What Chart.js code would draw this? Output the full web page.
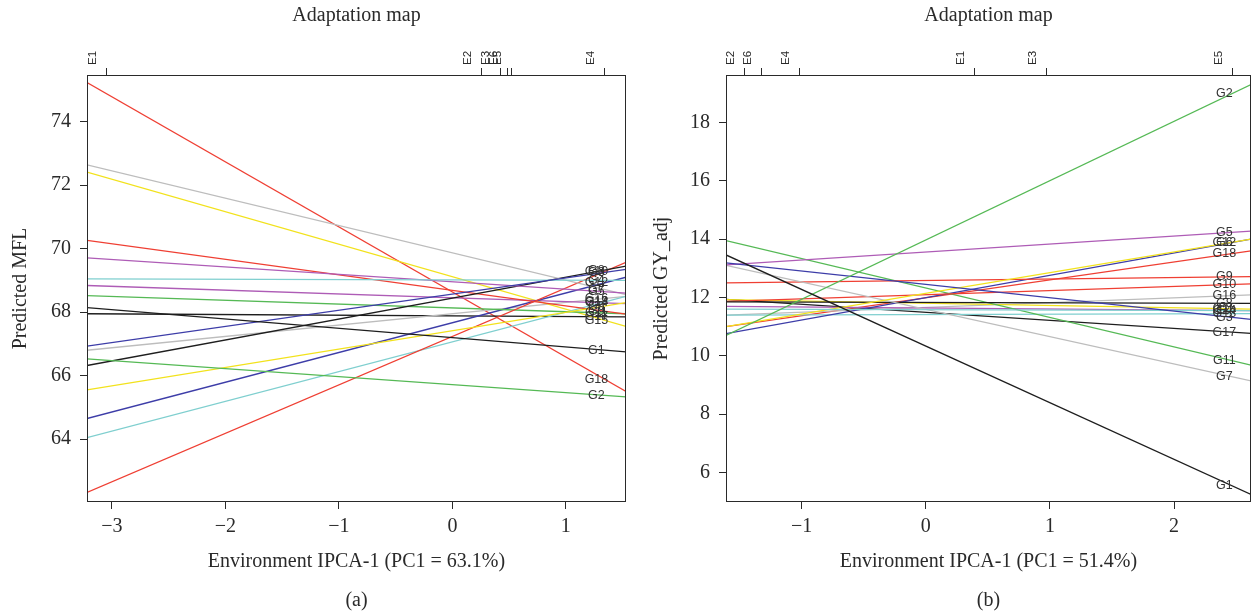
<!DOCTYPE html>
<html>
<head>
<meta charset="utf-8">
<script src="https://cdn.jsdelivr.net/npm/chart.js@4.4.1/dist/chart.umd.min.js"></script>
<style>
  body { margin: 0; background: #fff; }
  #wrap { position: relative; width: 1252px; height: 616px; }
  #boxA { position: absolute; left: 0; top: 0; }
  #boxB { position: absolute; left: 640px; top: 0; }
</style>
</head>
<body>
<div id="wrap">
  <div id="boxA"><canvas id="chartA" width="640" height="616"></canvas></div>
  <div id="boxB"><canvas id="chartB" width="612" height="616"></canvas></div>
</div>
<script>
// genotypes and their line colours
const genotypes = ['G1','G2','G3','G4','G5','G6','G7','G8','G9','G10','G11','G12','G13','G14','G15','G16','G17','G18'];
const genoColors = ['#1e1e1e','#55b955','#3d3da8','#7fcfcf','#ae5cb6','#f2e21c','#bdbdbd','#1e1e1e','#ef3f33',
                    '#ef3f33','#55b955','#3d3da8','#7fcfcf','#ae5cb6','#f2e21c','#bdbdbd','#1e1e1e','#ef3f33'];

// (a) MFL
const envNamesA = ['E1','E2','E3','E6','E5','E4'];
const envScoresA = [-3.05, 0.26, 0.42, 0.49, 0.52, 1.34];
const xRangeA = [-3.22, 1.53];
const yRangeA = [62.02, 75.47];
const xTicksA = [-3, -2, -1, 0, 1];
const yTicksA = [64, 66, 68, 70, 72, 74];
// predicted value at left and right end of the axis
const leftA  = [68.14, 66.53, 66.93, 69.05, 69.71, 65.55, 72.64, 66.32, 70.26, 62.32, 68.52, 64.65, 64.05, 68.84, 72.41, 66.80, 67.95, 75.23];
const rightA = [66.75, 65.33, 69.35, 69.00, 68.60, 68.30, 68.55, 69.45, 67.94, 69.57, 67.95, 69.10, 68.50, 68.27, 67.55, 68.50, 67.85, 65.50];

// (b) GY_adj
const envNamesB = ['E2','E6','E4','E1','E3','E5'];
const envScoresB = [-1.46, -1.32, -1.02, 0.39, 0.97, 2.47];
const xRangeB = [-1.61, 2.62];
const yRangeB = [4.99, 19.63];
const xTicksB = [-1, 0, 1, 2];
const yTicksB = [6, 8, 10, 12, 14, 16, 18];
const leftB  = [13.46, 10.70, 13.19, 11.60, 13.12, 11.00, 13.10, 11.85, 12.50, 11.87, 13.95, 10.76, 11.40, 11.70, 11.93, 11.40, 11.94, 11.00];
const rightB = [ 5.25, 19.30, 11.25, 11.55, 14.28, 14.00,  9.14, 11.80, 12.72, 12.47,  9.68, 14.00, 11.45, 11.55, 11.60, 12.09, 10.77, 13.60];

const SERIF = '"Liberation Serif", "Times New Roman", serif';
const SANS = '"Liberation Sans", Arial, sans-serif';
const INK = '#2a2a2a';

function minusFmt(v) {
  return v < 0 ? '\u2212' + Math.abs(v) : String(v);
}

// box around the plot, titles, captions and genotype labels
const decorPlugin = {
  id: 'decor',
  afterDatasetsDraw(chart) {
    const c = chart.ctx, a = chart.chartArea, o = chart.options.plugins.decor;
    const xs = chart.scales.x, ys = chart.scales.y;
    c.save();
    c.strokeStyle = INK;
    c.lineWidth = 1;
    c.strokeRect(a.left + 0.5, a.top + 0.5, a.right - a.left - 1, a.bottom - a.top - 1);

    // genotype labels at the last environment
    const xLab = Math.max(...o.envScores);
    c.font = '12.5px ' + SANS;
    c.fillStyle = '#333';
    c.textAlign = 'center';
    c.textBaseline = 'middle';
    genotypes.forEach((g, i) => {
      const t = (xLab - o.xRange[0]) / (o.xRange[1] - o.xRange[0]);
      const v = o.left[i] + (o.right[i] - o.left[i]) * t;
      c.fillText(g, xs.getPixelForValue(xLab) - 8, ys.getPixelForValue(v));
    });

    const cx = (a.left + a.right) / 2;
    c.fillStyle = INK;
    c.font = '20px ' + SERIF;
    c.fillText('Adaptation map', cx, 16);
    c.fillText(o.xTitle, cx, 562);
    c.fillText(o.caption, cx, 601);
    c.translate(o.yTitleX, (a.top + a.bottom) / 2);
    c.rotate(-Math.PI / 2);
    c.fillText(o.yTitle, 0, 0);
    c.restore();
  }
};

function makeChart(id, cfg) {
  const datasets = genotypes.map((g, i) => ({
    label: g,
    data: [{x: cfg.xRange[0], y: cfg.left[i]}, {x: cfg.xRange[1], y: cfg.right[i]}],
    borderColor: genoColors[i],
    borderWidth: 1.3,
    showLine: true,
    pointRadius: 0,
    fill: false
  }));
  const tickGrid = {drawOnChartArea: false, drawTicks: true, tickLength: 7, color: INK, tickColor: INK};
  return new Chart(document.getElementById(id), {
    type: 'scatter',
    data: {datasets},
    options: {
      responsive: false,
      animation: false,
      layout: {padding: {left: 0, right: cfg.padRight, top: 0, bottom: 0}},
      plugins: {
        legend: {display: false},
        tooltip: {enabled: false},
        decor: cfg
      },
      scales: {
        x: {
          type: 'linear', position: 'bottom',
          min: cfg.xRange[0], max: cfg.xRange[1],
          afterBuildTicks: s => { s.ticks = cfg.xTicks.map(v => ({value: v})); },
          afterFit: s => { s.height = 114; },
          ticks: {font: {family: SERIF, size: 20}, color: INK, padding: 6, maxRotation: 0, autoSkip: false, callback: minusFmt},
          grid: tickGrid,
          border: {display: false}
        },
        top: {
          type: 'linear', position: 'top',
          min: cfg.xRange[0], max: cfg.xRange[1],
          afterBuildTicks: s => { s.ticks = cfg.envScores.map(v => ({value: v})); },
          afterFit: s => { s.height = 75; },
          ticks: {font: {family: SANS, size: 11.5}, color: INK, padding: 3, minRotation: 90, maxRotation: 90, autoSkip: false,
                  callback: (v, i) => cfg.envNames[i]},
          grid: tickGrid,
          border: {display: false}
        },
        y: {
          type: 'linear', position: 'left',
          min: cfg.yRange[0], max: cfg.yRange[1],
          afterBuildTicks: s => { s.ticks = cfg.yTicks.map(v => ({value: v})); },
          afterFit: s => { s.width = cfg.leftWidth; },
          ticks: {font: {family: SERIF, size: 20}, color: INK, padding: 9, autoSkip: false},
          grid: tickGrid,
          border: {display: false}
        }
      }
    },
    plugins: [decorPlugin]
  });
}

makeChart('chartA', {
  envNames: envNamesA, envScores: envScoresA, xRange: xRangeA, yRange: yRangeA,
  xTicks: xTicksA, yTicks: yTicksA, left: leftA, right: rightA,
  padRight: 14, leftWidth: 87, yTitleX: 21,
  xTitle: 'Environment IPCA-1 (PC1 = 63.1%)', yTitle: 'Predicted MFL', caption: '(a)'
});

makeChart('chartB', {
  envNames: envNamesB, envScores: envScoresB, xRange: xRangeB, yRange: yRangeB,
  xTicks: xTicksB, yTicks: yTicksB, left: leftB, right: rightB,
  padRight: 1, leftWidth: 86, yTitleX: 22,
  xTitle: 'Environment IPCA-1 (PC1 = 51.4%)', yTitle: 'Predicted GY_adj', caption: '(b)'
});
</script>
</body>
</html>
